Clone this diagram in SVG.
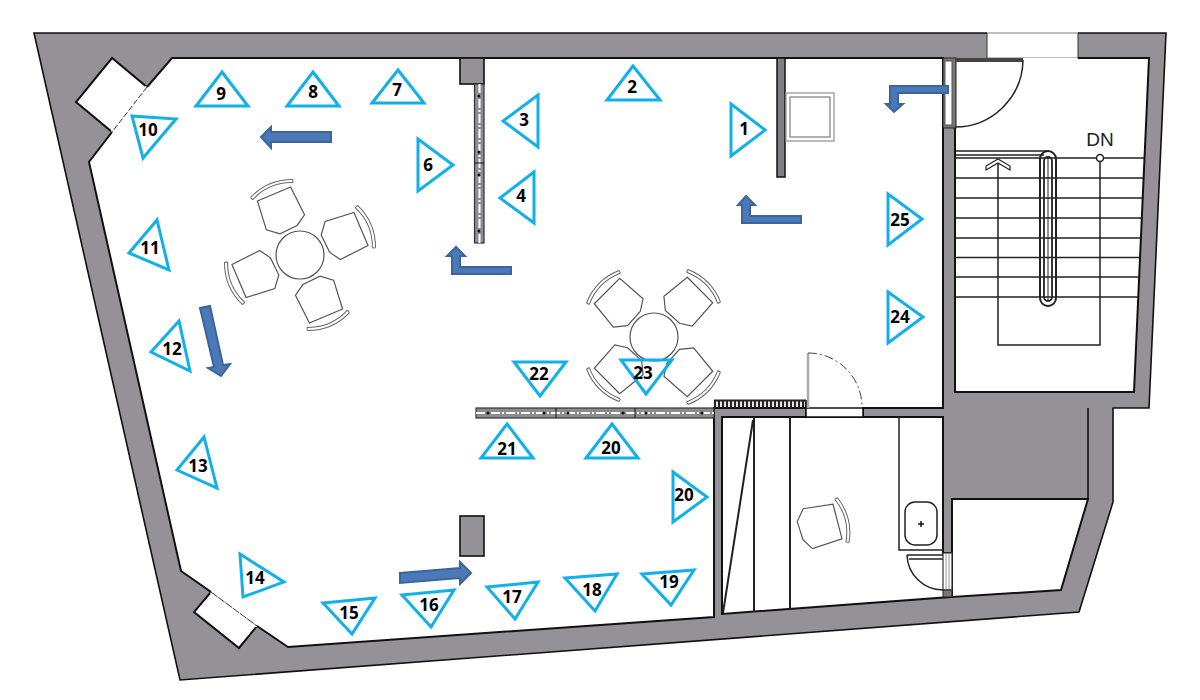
<svg xmlns="http://www.w3.org/2000/svg" xmlns:xlink="http://www.w3.org/1999/xlink" width="1200" height="700" viewBox="0 0 1200 700">
<style>
.wall{fill:#949297;stroke:#111;stroke-width:1.6;stroke-linejoin:miter}
.room{fill:#fff;stroke:#111;stroke-width:2}
.ln{fill:none;stroke:#222;stroke-width:1.5}
.tri{fill:none;stroke:#12b0ea;stroke-width:3;stroke-linejoin:miter}
.num{font-family:"Open Sans","Noto Sans",sans-serif;font-weight:700;font-size:17px;fill:#000;text-anchor:middle}
.arr{fill:#4a78b8;stroke:#3b6699;stroke-width:2}
.shelf{fill:#8e8c90;stroke:#333;stroke-width:1.2}
.dash{fill:none;stroke:#fff;stroke-width:2;stroke-dasharray:9 2 2 2}
</style>
<defs>
<g id="chair">
<path d="M-18,0 L18,0 L20,31 L9,38 L-10,39 L-21,30 Z" fill="#fff" stroke="#555" stroke-width="1.2"/>
<path d="M-22,-3 Q0,-13 22,-3 M-23,-6 Q0,-16 23,-6 M-22,-3 L-23,-6 M22,-3 L23,-6" fill="none" stroke="#666" stroke-width="1"/>
</g>
</defs>
<rect width="1200" height="700" fill="#fff"/>

<g id="walls">
<path class="wall" d="M34,33 H1166 L1149,408 H1113 V502 L1079,612 L180,680 Z"/>
<rect x="987" y="32" width="91" height="27" fill="#fff"/>
<path d="M987,33 H1078 M987,58 H1078" stroke="#aaa" stroke-width="1.5" fill="none"/>
<path d="M987,33 V58 M1078,33 V58" stroke="#333" stroke-width="1" fill="none"/>
<path class="room" d="M172,58 H943 V408 H863 V416 H806 V408 H714 V617 L288,647 L257,626 L239,648 L194,612 L211,592 L181,571 L89,162 L112,132 L76,102 L112,58 L147,87 Z"/>
<path d="M147,87 L112,132 M211,592 L257,626" stroke="#fff" stroke-width="3"/>
<path d="M147,87 L112,132" stroke="#333" stroke-width="1" stroke-dasharray="6 2"/>
<path d="M211,592 L257,626" stroke="#333" stroke-width="1" stroke-dasharray="8 1"/>
<path d="M955,58 H1149 L1134,392 H955 Z" fill="#fff"/>
<path d="M1078,58 H1149 L1134,392 H955 V128" fill="none" stroke="#111" stroke-width="2"/>
<path class="room" d="M722,417 H943 V553 H950 V597 L722,614 Z"/>
<path class="room" d="M952,499 H1088 L1061,590 L952,597 Z"/>
<path d="M1088,408 V499" stroke="#111" stroke-width="1.6"/>
<rect x="943" y="553" width="9" height="37" fill="#fff" stroke="#333" stroke-width="1.2"/>
<path d="M946,553 V590 M949,553 V590" stroke="#999" stroke-width="1"/>
<rect x="943" y="590" width="9" height="7" fill="#777" stroke="#222"/>
<rect x="943" y="58" width="13" height="70" fill="#777" stroke="#222" stroke-width="1"/>
<rect x="945" y="61" width="7" height="64" fill="#fff" stroke="#555"/>
</g>

<g id="partitions">
<rect x="777" y="58" width="8" height="119" fill="#808083" stroke="#111" stroke-width="1.5"/>
<rect x="786" y="93" width="48" height="48" fill="#fff" stroke="#999" stroke-width="1.3"/>
<rect x="790" y="97" width="40" height="40" fill="#fff" stroke="#888" stroke-width="1.3"/>
<rect x="460" y="58" width="24" height="26" class="wall"/>
<rect x="460" y="516" width="24" height="40" class="wall"/>
<rect class="shelf" x="474.500" y="84" width="9.500" height="159"/>
<path class="dash" d="M479.500,84 V243"/>
<path d="M475,163 H484" stroke="#111" stroke-width="1"/>
<g fill="#111"><circle cx="479" cy="96" r="1.600"/><circle cx="479" cy="152" r="1.600"/><circle cx="479" cy="175" r="1.600"/><circle cx="479" cy="231" r="1.600"/></g>
<rect class="shelf" x="476" y="408" width="238" height="10"/>
<path class="dash" d="M476,413 H714"/>
<path d="M556,408 V418 M635,408 V418" stroke="#111" stroke-width="1"/>
<g fill="#111"><circle cx="488" cy="413" r="1.600"/><circle cx="544" cy="413" r="1.600"/><circle cx="568" cy="413" r="1.600"/><circle cx="623" cy="413" r="1.600"/><circle cx="646" cy="413" r="1.600"/><circle cx="702" cy="413" r="1.600"/></g>
<path d="M714,400.500 H806 M715,400 V408 M719,400 V408 M723,400 V408 M727,400 V408 M731,400 V408 M735,400 V408 M739,400 V408 M743,400 V408 M747,400 V408 M751,400 V408 M755,400 V408 M759,400 V408 M763,400 V408 M767,400 V408 M771,400 V408 M775,400 V408 M779,400 V408 M783,400 V408 M787,400 V408 M791,400 V408 M795,400 V408 M799,400 V408 M803,400 V408 M806,400 V408" fill="none" stroke="#222" stroke-width="2.200"/>
<rect x="806" y="408" width="57" height="9" fill="#fff" stroke="#111" stroke-width="1.500"/>
<path d="M808,353 V408" stroke="#aaa" stroke-width="2.500"/>
<path d="M808,353 A54,54 0 0 1 862,408" fill="none" stroke="#444" stroke-width="1" stroke-dasharray="9 3 2 3"/>
<path d="M956,60 H1023" stroke="#444" stroke-width="4"/>
<path d="M1023,60 A68,68 0 0 1 955,127" class="ln"/>
</g>

<g id="stairs">
<path class="ln" d="M955,158 H1144 M955,178 H1143 M955,198 H1142 M955,218 H1141 M955,238 H1140 M955,257.500 H1139 M955,277 H1139 M955,297 H1138"/>
<path class="ln" d="M998,161 V345 H1100 V162"/>
<circle cx="1100" cy="158" r="3.500" fill="#fff" stroke="#222" stroke-width="1.500"/>
<path d="M986,170 V166 L998,159 L1010,166 V170 L998,163 Z" fill="#fff" stroke="#222" stroke-width="1.200"/>
<path d="M955,151 H1048 M955,155 H1044" class="ln"/>
<rect x="1040" y="151" width="16" height="155" rx="8" fill="none" stroke="#222" stroke-width="2"/>
<rect x="1044" y="157" width="8" height="144" rx="4" fill="none" stroke="#222" stroke-width="1.800"/>
<path d="M1048,158 V300" stroke="#222" stroke-width="1"/>
<text x="1100" y="146" font-family="Liberation Sans, sans-serif" font-size="19" fill="#222" text-anchor="middle">DN</text>
</g>

<g id="wc">
<path class="ln" d="M754,417 V612 M790,417 V609 M753,420 L723,613" style="stroke-width:2"/>
<path class="ln" d="M899,417 V550 H943"/>
<rect x="905" y="502" width="32" height="43" rx="10" fill="#fff" stroke="#222" stroke-width="1.500"/>
<path d="M918,524 H924 M921,521 V527" stroke="#111" stroke-width="1.500"/>
<path class="ln" d="M907,555 H943 M909,559 H943 M907,555 A36,36 0 0 0 943,590"/>
</g>

<g id="table-1">
<circle cx="300" cy="255" r="24" fill="#fff" stroke="#555" stroke-width="1.200"/>
<use xlink:href="#chair" href="#chair" transform="translate(274,194) rotate(-23)"/>
<use xlink:href="#chair" href="#chair" transform="translate(361,229) rotate(67)"/>
<use xlink:href="#chair" href="#chair" transform="translate(326,316) rotate(157)"/>
<use xlink:href="#chair" href="#chair" transform="translate(239,281) rotate(-113)"/>
</g>
<g id="table-2">
<use xlink:href="#chair" href="#chair" transform="translate(607,291) rotate(-45)"/>
<use xlink:href="#chair" href="#chair" transform="translate(700,290) rotate(45)"/>
<use xlink:href="#chair" href="#chair" transform="translate(700,384) rotate(135)"/>
<use xlink:href="#chair" href="#chair" transform="translate(607,381) rotate(-135)"/>
<circle cx="654" cy="337" r="24" fill="#fff" stroke="#555" stroke-width="1.200"/>
</g>
<g id="office-chair"><use xlink:href="#chair" href="#chair" transform="translate(837.500,521.500) rotate(75.500)"/></g>

<g id="route">
<path class="arr" d="M331,132 H271 V127 L261,137 L271,148 V142 H331 Z"/>
<path class="arr" d="M200,308 L210,306 L223,365 L230,364 L221,376 L208,368 L214,367 Z"/>
<path class="arr" d="M400,573 L460,568 V562 L471,573 L460,584 V578 L400,583 Z"/>
<path class="arr" d="M801,216 H750 V205 H755 L746,196 L738,205 H742 V223 H801 Z"/>
<path class="arr" d="M511,267 H460 V256 H465 L456,247 L447,256 H452 V274 H511 Z"/>
<path class="arr" d="M948,86 H890 V104 H886 L894,112 L903,104 H898 V93 H948 Z"/>
</g>

<g id="v1"><polygon class="tri" points="731,104 765,130 731,156"/><text class="num" x="744" y="135">1</text></g>
<g id="v2"><polygon class="tri" points="633,66 660,100 607,100"/><text class="num" x="632" y="93">2</text></g>
<g id="v3"><polygon class="tri" points="538,95 503,121 538,147"/><text class="num" x="524" y="126">3</text></g>
<g id="v4"><polygon class="tri" points="534,172 500,198 534,223"/><text class="num" x="521" y="202">4</text></g>
<g id="v6"><polygon class="tri" points="418,139 453,165 418,191"/><text class="num" x="428" y="171">6</text></g>
<g id="v7"><polygon class="tri" points="398,70 424,103 372,103"/><text class="num" x="397" y="96">7</text></g>
<g id="v8"><polygon class="tri" points="313,72 339,106 287,106"/><text class="num" x="313" y="98">8</text></g>
<g id="v9"><polygon class="tri" points="222,72 248,106 196,106"/><text class="num" x="221" y="100">9</text></g>
<g id="v10"><polygon class="tri" points="132,116 176,119 143,158"/><text class="num" x="148" y="136">10</text></g>
<g id="v11"><polygon class="tri" points="157,220 169,270 129,253"/><text class="num" x="150" y="254">11</text></g>
<g id="v12"><polygon class="tri" points="179,321 151,352 190,371"/><text class="num" x="172" y="355">12</text></g>
<g id="v13"><polygon class="tri" points="204,437 217,488 177,470"/><text class="num" x="198" y="472">13</text></g>
<g id="v14"><polygon class="tri" points="240,554 284,582 243,597"/><text class="num" x="255" y="584">14</text></g>
<g id="v15"><polygon class="tri" points="323,603 375,598 352,634"/><text class="num" x="349" y="619">15</text></g>
<g id="v16"><polygon class="tri" points="402,595 454,590 431,627"/><text class="num" x="429" y="611">16</text></g>
<g id="v17"><polygon class="tri" points="487,587 538,582 515,619"/><text class="num" x="512" y="603">17</text></g>
<g id="v18"><polygon class="tri" points="565,578 617,574 595,611"/><text class="num" x="592" y="596">18</text></g>
<g id="v19"><polygon class="tri" points="642,574 694,570 671,605"/><text class="num" x="669" y="588">19</text></g>
<g id="v20a"><polygon class="tri" points="673,472 707,497 673,522"/><text class="num" x="684" y="501">20</text></g>
<g id="v20b"><polygon class="tri" points="612,424 638,458 586,458"/><text class="num" x="611" y="454">20</text></g>
<g id="v21"><polygon class="tri" points="507,424 533,458 481,458"/><text class="num" x="507" y="455">21</text></g>
<g id="v22"><polygon class="tri" points="514,362 566,362 540,396"/><text class="num" x="539" y="380">22</text></g>
<g id="v23"><polygon class="tri" points="621,360 672,360 646,394"/><text class="num" x="643" y="379">23</text></g>
<g id="v24"><polygon class="tri" points="888,292 923,317 888,343"/><text class="num" x="900" y="323">24</text></g>
<g id="v25"><polygon class="tri" points="888,194 922,219 888,245"/><text class="num" x="900" y="226">25</text></g>
</svg>
